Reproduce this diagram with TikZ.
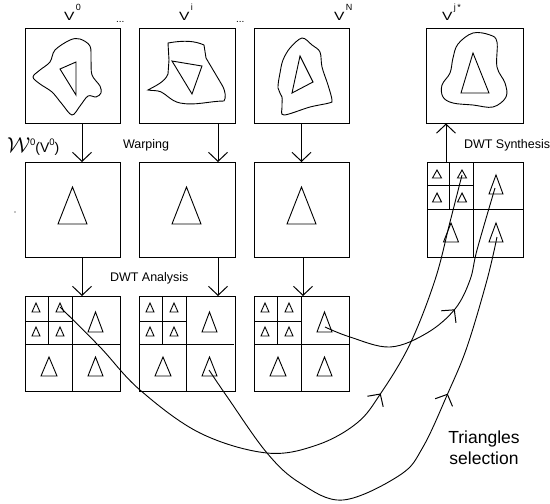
\documentclass[tikz,border=0pt]{standalone}
\usepackage{fontspec}
\setmainfont{Liberation Sans}
\usepackage{graphicx}
\usetikzlibrary{arrows.meta,decorations.markings}
\tikzset{
  box/.style={draw, line width=1pt, minimum width=95pt, minimum height=95pt, inner sep=0pt, outer sep=0pt},
  ln/.style={line width=1pt},
  thin/.style={line width=0.9pt},
  vb/.tip={Straight Barb[length=9pt,width=19pt,line width=1pt]},
  arr/.style={ln, -vb},
  conn/.style={thin},
  lbl/.style={inner sep=0pt, outer sep=0pt},
  markat/.style={postaction={decorate}, decoration={markings, mark=at position #1 with {\arrow{vb}}}}
}
\newcommand{\mytri}[4]{\draw[thin] (#1,#2) -- ++(-#3,#4) -- ++(2*#3,0) -- cycle;}
\newcommand{\Vlab}[1]{\fontsize{12}{12}\selectfont\scalebox{1.3}[1]{V}\hspace{1.5pt}\raisebox{10pt}{\fontsize{9}{9}\selectfont #1}}
\newcommand{\dwtgrid}[1]{%
  \begin{scope}[shift={(#1)}]
    \draw[ln] (47,0)--(47,95) (0,48)--(95,48) (23,0)--(23,48) (0,25)--(47,25);
    \mytri{11}{7}{4}{9}\mytri{35}{7}{4}{9}\mytri{11}{31}{4}{9}\mytri{35}{31}{4}{9}
    \mytri{70.5}{16}{7.5}{20}\mytri{24}{61}{8}{19}\mytri{70.5}{61}{7.5}{19}
  \end{scope}}
\begin{document}
\begin{tikzpicture}[x=1pt,y=-1pt]
\useasboundingbox (0,0) rectangle (550,504);

% boxes
\node[box] (t1) at (72.5,76) {};
\node[box, minimum width=96pt] (t2) at (187,76) {};
\node[box] (t3) at (301.5,76) {};
\node[box, minimum width=97pt] (tj) at (474.5,76) {};
\node[box] (m1) at (72.5,209.5) {};
\node[box, minimum width=96pt] (m2) at (187,209.5) {};
\node[box] (m3) at (301.5,209.5) {};
\node[box] (b1) at (72.5,343.5) {};
\node[box, minimum width=96pt] (b2) at (187,343.5) {};
\node[box] (b3) at (301.5,343.5) {};
\node[box, minimum width=96pt] (s) at (475,209.5) {};

% top-row shapes
\draw[thin] plot[smooth cycle, tension=0.55] coordinates {(70,40)(80,39)(90,46)(91,60)(92,75)(100,86)(101,93)(96,97)(88,96)(80,106)(72,115)(62,104)(52,92)(40,84)(33,77)(40,70)(50,62)(55,50)};
\draw[thin] (60,69)--(76,62)--(76,95)--cycle;
\draw[thin] (168,43) .. controls (185,40) and (195,41) .. (204,45) -- (206,58) -- (222,85) .. controls (226,92) and (226,98) .. (224,101) .. controls (210,101) and (195,106) .. (180,103) .. controls (170,101) and (165,92) .. (158,91) .. controls (153,90) and (150,91) .. (148,90) .. controls (155,86) and (165,82) .. (168,74) -- (169,60) -- cycle;
\draw[thin] (172,61)--(202,66)--(192,94)--cycle;
\draw[thin] plot[smooth cycle, tension=0.55] coordinates {(302,38)(312,45)(320,52)(322,67)(328,85)(332,100)(329,103)(310,107)(284,115)(282,107)(282,97)(278,88)(280,73)(283,60)(290,48)};
\draw[thin] (300,56)--(313,82)--(292,93)--cycle;
\draw[thin] plot[smooth cycle, tension=0.6] coordinates {(473,33)(490,35)(497,42)(497,67)(505,83)(506,97)(493,107)(473,105)(453,103)(443,97)(442,85)(450,73)(453,58)(458,44)};
\draw[thin] (473,53)--(489,93)--(461,93)--cycle;

% middle triangles
\mytri{72.5}{187}{14.5}{37}
\mytri{186.5}{187}{14.5}{37}
\mytri{301.5}{187}{14.5}{37}

% bottom grids
\dwtgrid{b1.north west}
\dwtgrid{b2.north west}
\dwtgrid{b3.north west}

% synthesis grid
\begin{scope}[shift={(s.north west)}]
  \draw[ln] (46,0)--(46,95) (0,47)--(96,47) (22,0)--(22,47) (0,23)--(46,23);
  \mytri{10}{8}{4.5}{8}\mytri{35}{8}{4.5}{8}\mytri{10}{31}{4.5}{9}\mytri{35}{31}{4.5}{9}
  \mytri{69}{13}{7}{19}\mytri{24}{61}{7.5}{19}\mytri{69}{61}{7}{19}
\end{scope}

% vertical arrows
\draw[arr] ([xshift=9.5pt]t1.south) -- ([xshift=9.5pt]m1.north);
\draw[arr] ([xshift=31pt]t2.south) -- ([xshift=31pt]m2.north);
\draw[arr] (t3.south) -- (m3.north);
\draw[arr] ([xshift=9.5pt]m1.south) -- ([xshift=9.5pt]b1.north);
\draw[arr] ([xshift=31pt]m2.south) -- ([xshift=31pt]b2.north);
\draw[arr] ([xshift=1.5pt]m3.south) -- ([xshift=1.5pt]b3.north);
\draw[arr] ([xshift=-29pt]s.north) -- ([xshift=-28.5pt]tj.south);

% curve end points
\coordinate (sA) at ([shift={(35,11)}]b1.north west);
\coordinate (sB) at ([shift={(70,74)}]b2.north west);
\coordinate (sC) at ([shift={(71,31)}]b3.north west);
\coordinate (eA) at ([shift={(35,13)}]s.north west);
\coordinate (eB) at ([shift={(70,75)}]s.north west);
\coordinate (eC) at ([shift={(68,26)}]s.north west);

% selection curves
\draw[conn, markat=0.627] plot[smooth, tension=0.6] coordinates {(sA) (100,347) (140,390) (200,433) (267,453) (317,445) (357,423) (381,393) (410,344) (435,280) (450,222) (eA)};
\draw[conn, markat=0.681] plot[smooth, tension=0.6] coordinates {(sB) (228,398) (267,453) (300,483) (343,500) (400,475) (423,447) (448,393) (467,347) (487,280) (eB)};
\draw[conn, markat=0.53] plot[smooth, tension=0.6] coordinates {(sC) (350,337) (390,347) (427,333) (455,309) (470,280) (477,250) (eC)};

% labels
\node[lbl, anchor=base west] (lv0) at (64,20) {\Vlab{0}};
\node[lbl, anchor=base west] (lvi) at (179,20) {\Vlab{i}};
\node[lbl, anchor=base west] (lvn) at (334,20) {\Vlab{N}};
\node[lbl, anchor=base west] (lvj) at (442,20) {\Vlab{j\,*}};
\node[lbl, anchor=base west] (d1) at (116,22) {\fontsize{10}{10}\selectfont ...};
\node[lbl, anchor=base west] (d2) at (236,22) {\fontsize{10}{10}\selectfont ...};
\node[lbl, anchor=base west] (lw) at (7,152) {\fontsize{14}{14}\selectfont\scalebox{1.5}{$\mathcal{W}$}\raisebox{6.5pt}{\fontsize{9.5}{9.5}\selectfont 0}(V\raisebox{6.5pt}{\fontsize{9.5}{9.5}\selectfont 0})};
\fill (15,212) circle (0.6);
\node[lbl, anchor=base west] (lwarp) at (123,148) {\fontsize{12.5}{12.5}\selectfont Warping};
\node[lbl, anchor=base west] (lana) at (110,281) {\fontsize{12.5}{12.5}\selectfont DWT Analysis};
\node[lbl, anchor=base west] (lsyn) at (464,148) {\fontsize{12.5}{12.5}\selectfont DWT Synthesis};
\node[lbl, align=center, anchor=north, font=\fontsize{17.5}{21}\selectfont] (lsel) at (484,431) {Triangles\\selection};
\end{tikzpicture}
\end{document}
